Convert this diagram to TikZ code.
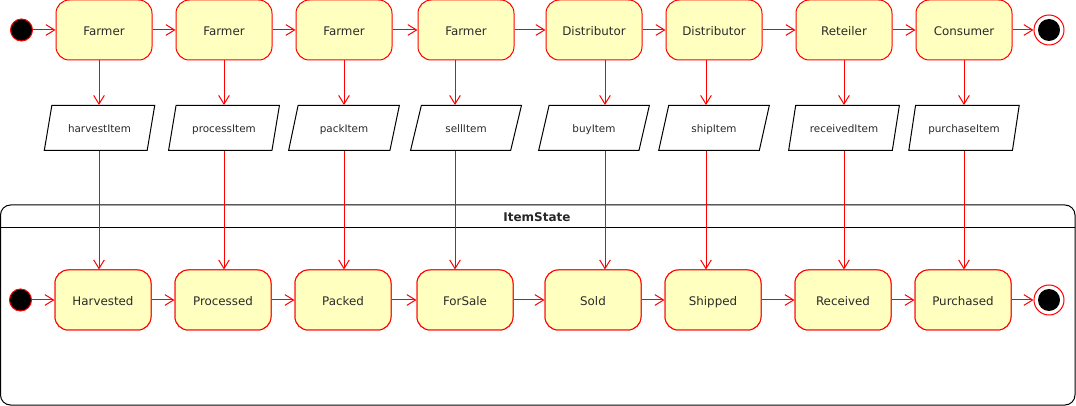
\documentclass[tikz,border=0pt]{standalone}
\usepackage{fontspec}
\setmainfont{DejaVu Sans}
\usepackage{xcolor}
\usetikzlibrary{arrows.meta,shapes.geometric}

\definecolor{stateFill}{HTML}{FFFFC0}
\definecolor{labelGray}{HTML}{2A2A2A}

\tikzset{
    state/.style={draw=red, fill=stateFill, rounded corners=10pt, line width=0.75pt,
        minimum width=72pt, minimum height=45pt, inner sep=0pt,
        text height=9.4pt, text depth=1.2pt,
        text=labelGray, font=\fontsize{8.9}{10}\selectfont},
    itemBox/.style={trapezium, trapezium left angle=67, trapezium right angle=113,
        trapezium stretches=true, draw=black, line width=0.75pt,
        minimum width=83.25pt, minimum height=33.75pt, inner sep=0pt,
        text height=7.6pt, text depth=1.2pt,
        text=labelGray, font=\fontsize{7.8}{9}\selectfont},
    startDot/.style={circle, draw=red, fill=black, line width=0.75pt,
        minimum size=16.5pt, inner sep=0pt},
    endDot/.style={circle, draw=red, fill=white, line width=0.75pt,
        minimum size=22.5pt, inner sep=0pt,
        path picture={\fill[black] (path picture bounding box.center) circle (8.25pt);}},
    flow/.style={draw=red, line width=0.75pt, -{Straight Barb[length=6.5pt,width=8pt]}}
}

\begin{document}
\begin{tikzpicture}[x=0.75pt, y=-0.75pt]
    \useasboundingbox (0,0) rectangle (1076,406);

    % container for the item states
    \draw[line width=0.75pt, rounded corners=7.5pt] (0.5,205) rectangle (1075,405);
    \draw[line width=0.75pt] (0.5,228) -- (1075,228);
    \node[font=\bfseries\fontsize{9}{10}\selectfont, text=black!85] (title) at (537,217) {ItemState};

    % actors along the top
    \node[startDot] (start) at (21.5,30) {};
    \foreach \i/\name/\x in {1/Farmer/104, 2/Farmer/224, 3/Farmer/344, 4/Farmer/466,
                             5/Distributor/594, 6/Distributor/714, 7/Reteiler/844, 8/Consumer/964} {
        \node[state] (a\i) at (\x,30) {\name};
        \node[state] (s\i) at (\x-1,300) {};
    }
    \node[endDot] (stop) at (1049,30) {};

    % states in the lower lane
    \node[startDot] (sstart) at (20.5,300) {};
    \foreach \i/\st in {1/Harvested, 2/Processed, 3/Packed, 4/ForSale,
                        5/Sold, 6/Shipped, 7/Received, 8/Purchased} {
        \node[state] at (s\i) {\st};
    }
    \node[endDot] (sstop) at (1049,300) {};

    % actions between them
    \foreach \i/\item/\x in {1/harvestItem/99.5, 2/processItem/224, 3/packItem/344, 4/sellItem/466,
                             5/buyItem/594, 6/shipItem/714, 7/receivedItem/844, 8/purchaseItem/964} {
        \node[itemBox] (p\i) at (\x,128) {\item};
    }

    % transitions
    \draw[flow] (start) -- (a1);
    \draw[flow] (sstart) -- (s1);
    \foreach \i [evaluate=\i as \j using int(\i+1)] in {1,...,7} {
        \draw[flow] (a\i) -- (a\j);
        \draw[flow] (s\i) -- (s\j);
    }
    \draw[flow] (a8) -- (stop);
    \draw[flow] (s8) -- (sstop);

    \foreach \i/\ax in {1/99, 2/224, 3/344, 4/455, 5/605, 6/706, 7/844, 8/964} {
        \draw[flow] (a\i.south -| \ax,0) -- (p\i.north -| \ax,0);
        \draw[flow] (p\i.south -| \ax,0) -- (s\i.north -| \ax,0);
    }
\end{tikzpicture}
\end{document}
